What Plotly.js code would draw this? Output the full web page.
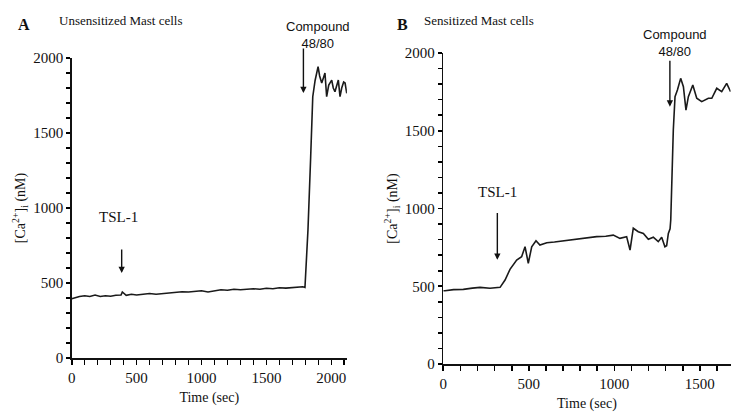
<!DOCTYPE html>
<html>
<head>
<meta charset="utf-8">
<script src="https://cdn.plot.ly/plotly-3.0.1.min.js"></script>
<style>html,body{margin:0;padding:0;background:#fff;}#chart{width:732px;height:412px;}</style>
</head>
<body>
<div id="chart"></div>
<script>
// Panel A: unsensitized mast cells
const timeA = [0,30,60,100,140,180,220,260,300,340,380,390,420,460,500,550,600,650,700,750,800,850,900,950,1000,1050,1100,1150,1200,1250,1300,1350,1400,1450,1500,1550,1600,1650,1700,1750,1780,1797,1820,1841,1857,1875,1898,1910,1926,1940,1951,1964,1980,2003,2015,2028,2040,2054,2067,2080,2095,2106,2119];
const caA = [395,405,410,415,410,420,410,415,412,418,420,440,418,425,420,425,430,425,430,435,438,442,440,445,448,440,450,455,452,458,455,460,462,458,465,462,468,466,470,472,475,470,853,1342,1742,1850,1942,1880,1833,1870,1900,1742,1820,1853,1800,1775,1820,1853,1742,1800,1840,1833,1765];
// Panel B: sensitized mast cells
const timeB = [0,10,60,117,170,215,273,332,361,390,429,458,478,497,517,542,565,605,650,702,750,800,850,897,950,994,1033,1072,1092,1111,1140,1170,1199,1228,1257,1277,1296,1306,1316,1326,1330,1336,1345,1355,1369,1388,1404,1419,1433,1459,1482,1511,1550,1570,1599,1628,1657,1680];
const caB = [471,471,478,480,488,493,487,493,540,609,669,690,754,648,754,793,765,780,785,793,800,808,812,819,822,829,808,819,733,873,851,840,802,815,787,815,754,760,840,870,926,1226,1505,1719,1762,1837,1783,1633,1719,1794,1709,1687,1709,1709,1773,1751,1805,1751];

const labelStep = 500, minorStep = 100;
const tslTimeA = 385, tslTimeB = 316;
const cmpTimeA = 1785, cmpTimeB = 1325;

const serif = "Liberation Serif, Times New Roman, serif";
const sans = "Liberation Sans Narrow, Liberation Sans, Arial, sans-serif";

function tickSet(max){
  const vals = [], text = [];
  for (let v = 0; v <= max; v += minorStep){
    vals.push(v);
    text.push(v % labelStep === 0 ? String(v) : '');
  }
  return {vals, text};
}

const lineStyle = {color:'#1a1a1a', width:1.6};
const traces = [
  {x: timeA, y: caA, type:'scatter', mode:'lines', line: lineStyle, xaxis:'x', yaxis:'y', hoverinfo:'skip'},
  {x: timeB, y: caB, type:'scatter', mode:'lines', line: lineStyle, xaxis:'x2', yaxis:'y2', hoverinfo:'skip'}
];

function xax(domain, range, anchor, standoff){
  const t = tickSet(range[1]);
  return {domain, range, anchor, tickmode:'array', tickvals:t.vals, ticktext:t.text,
    showline:true, linecolor:'#111', linewidth:1.5, showgrid:false, zeroline:false,
    ticks:'outside', ticklen:5, tickwidth:1.6, tickcolor:'#000', showticklabels:true,
    tickfont:{family:serif, size:15, color:'#111'},
    title:{text:'Time (sec)', font:{family:serif, size:14, color:'#111'}, standoff: standoff}};
}
function yax(domain, anchor){
  const t = tickSet(2000);
  return {domain, range:[0,2000], anchor, tickmode:'array', tickvals:t.vals, ticktext:t.text,
    showline:true, linecolor:'#111', linewidth:1.5, showgrid:false, zeroline:false,
    ticks:'outside', ticklen:4, tickwidth:1.6, tickcolor:'#000', showticklabels:true,
    tickfont:{family:serif, size:15, color:'#111'},
    title:{text:'[Ca<sup>2+</sup>]<sub>i</sub> (nM)', font:{family:serif, size:14, color:'#111'}, standoff: 4}};
}

const ann = [];
function arrow(xref, yref, x, yHead, yTail){
  ann.push({xref, yref, x, y:yHead, ax:x, ay:yTail, axref:xref, ayref:yref, text:'',
    showarrow:true, arrowhead:2, arrowsize:0.9, arrowwidth:1.4, arrowcolor:'#111'});
}
function label(xref, yref, x, y, text, font, size){
  ann.push({xref, yref, x, y, text, showarrow:false, font:{family:font, size, color:'#111'},
    xanchor:'center', yanchor:'middle'});
}
arrow('x','y', tslTimeA, 567, 733);
label('x','y', 360, 940, 'TSL-1', serif, 15);
arrow('x','y', cmpTimeA, 1767, 2073);
label('paper','paper', 318/732, 1-35/412, 'Compound<br>48/80', sans, 13);
arrow('x2','y2', tslTimeB, 670, 980);
label('x2','y2', 316, 1105, 'TSL-1', serif, 15);
arrow('x2','y2', cmpTimeB, 1655, 1960);
label('paper','paper', 675/732, 1-43/412, 'Compound<br>48/80', sans, 13);
// panel titles
ann.push({xref:'paper', yref:'paper', x:16/732, y:1-25/412, text:'<b>A</b>', showarrow:false, xanchor:'left', yanchor:'middle', font:{family:serif, size:16, color:'#111'}});
ann.push({xref:'paper', yref:'paper', x:57/732, y:1-21/412, text:'Unsensitized Mast cells', showarrow:false, xanchor:'left', yanchor:'middle', font:{family:serif, size:13, color:'#111'}});
ann.push({xref:'paper', yref:'paper', x:395/732, y:1-25/412, text:'<b>B</b>', showarrow:false, xanchor:'left', yanchor:'middle', font:{family:serif, size:16, color:'#111'}});
ann.push({xref:'paper', yref:'paper', x:422/732, y:1-21/412, text:'Sensitized Mast cells', showarrow:false, xanchor:'left', yanchor:'middle', font:{family:serif, size:13, color:'#111'}});

const layout = {
  width:732, height:412, margin:{l:0,r:0,t:0,b:0}, paper_bgcolor:'#fff', plot_bgcolor:'#fff',
  showlegend:false,
  xaxis: xax([71.7/732, 346.9/732], [0,2120], 'y', 7),
  yaxis: yax([54/412, 354/412], 'x'),
  xaxis2: xax([443.3/732, 730.6/732], [0,1680], 'y2', 9),
  yaxis2: yax([48/412, 359/412], 'x2'),
  annotations: ann
};
Plotly.newPlot('chart', traces, layout, {staticPlot:true, displayModeBar:false});
</script>
</body>
</html>
